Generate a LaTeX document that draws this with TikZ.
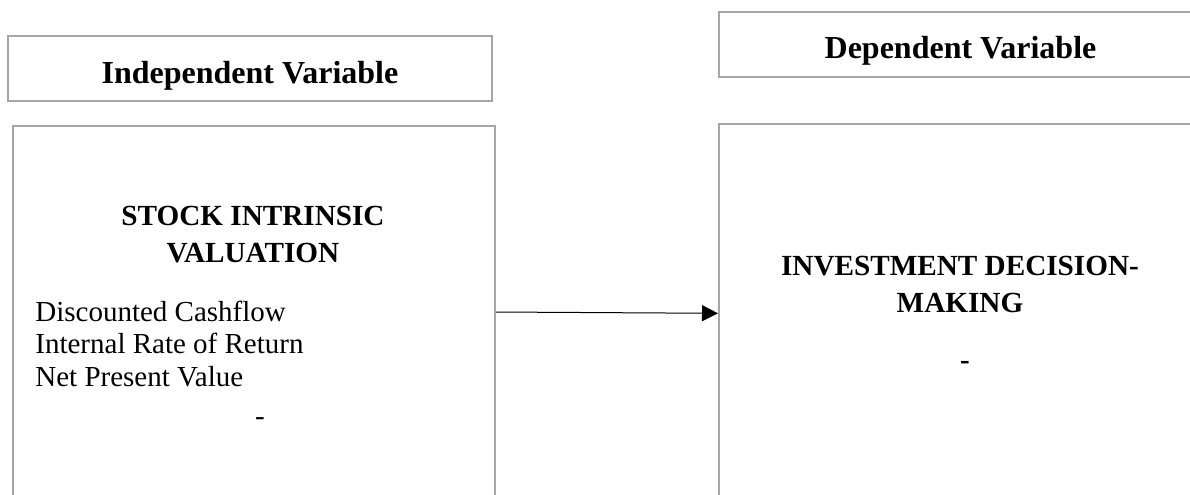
\documentclass[tikz,border=0pt]{standalone}
\usepackage{fontspec}
\setmainfont{Liberation Serif}
\usetikzlibrary{arrows.meta}
\definecolor{boxgray}{RGB}{166,166,166}

\begin{document}
\begin{tikzpicture}[x=0.5pt, y=-0.5pt,
  varbox/.style={draw=boxgray, line width=1pt, inner sep=0pt},
  headtext/.style={font=\fontsize{16}{19}\selectfont\bfseries, anchor=base, inner sep=0pt},
  titletext/.style={font=\fontsize{14.6}{18.4}\selectfont\bfseries, align=center, anchor=base, inner sep=0pt},
  listtext/.style={font=\fontsize{14.5}{16.4}\selectfont, align=left, anchor=base west, inner sep=0pt},
  dashtext/.style={font=\fontsize{14.5}{16.4}\selectfont, anchor=base, inner sep=0pt}]

\useasboundingbox (0,0) rectangle (1190,494);
\clip (0,0) rectangle (1190,494);

% variable headings
\node[varbox, minimum width=242pt, minimum height=32.7pt] (indepbox) at (250,68.3) {};
\node[headtext] (indeplabel) at (250,83.4) {Independent Variable};
\node[varbox, minimum width=241.5pt, minimum height=32.3pt] (depbox) at (960.5,44.7) {};
\node[headtext] (deplabel) at (960.5,58.3) {Dependent Variable};

% the two blocks (base anchor sits on the last line)
\node[varbox, minimum width=241pt, minimum height=186.5pt] (stockbox) at (254,312) {};
\node[titletext] (stocktitle) at (253,262.7) {STOCK INTRINSIC\\VALUATION};
\node[listtext] (stocklist) at (35,386.7) {Discounted Cashflow\\Internal Rate of Return\\Net Present Value};
\node[dashtext] (stockdash) at (260,425) {-};

\node[varbox, minimum width=241.5pt, minimum height=189.3pt] (decisionbox) at (960.5,313.3) {};
\node[titletext] (decisiontitle) at (960,312) {INVESTMENT DECISION-\\MAKING};
\node[dashtext, font=\fontsize{14.5}{16.4}\selectfont\bfseries] (decisiondash) at (965,369) {-};

\draw[-{Triangle[length=8pt,width=8pt]}, line width=0.5pt] (stockbox.east) -- (decisionbox.west);

\end{tikzpicture}
\end{document}
